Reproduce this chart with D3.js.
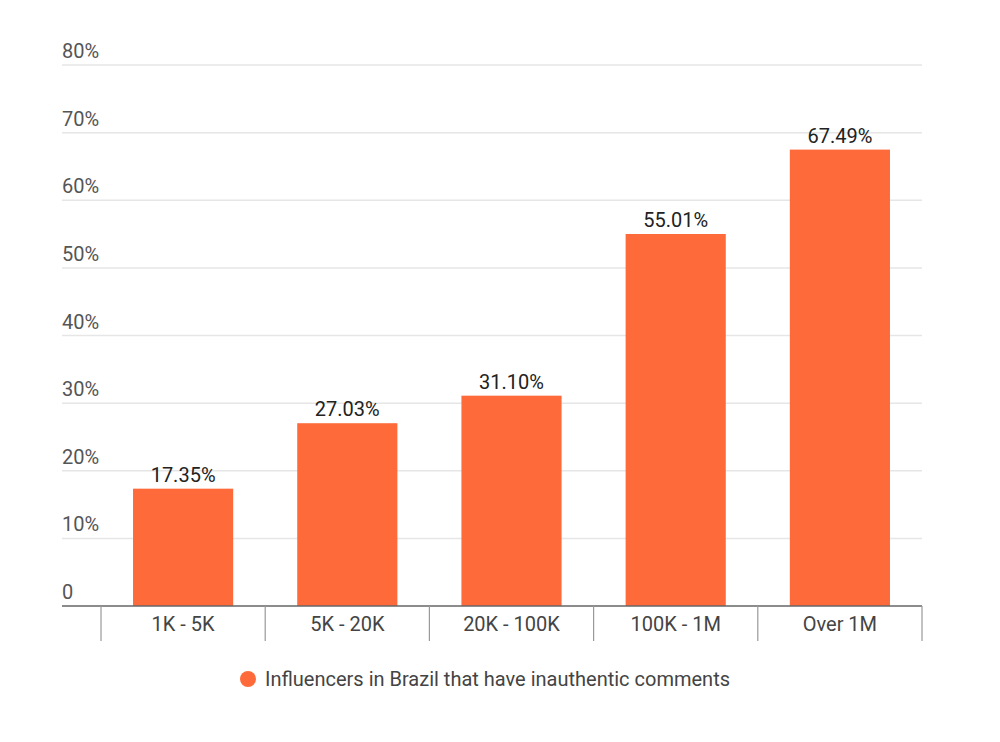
<!DOCTYPE html>
<html>
<head>
  <meta charset="utf-8">
  <script src="https://cdn.jsdelivr.net/npm/d3@7"></script>
  <style>
    body { margin: 0; background: #fff; font-family: Roboto, sans-serif; }
  </style>
</head>
<body>
  <script type="text/javascript">
    var categories = ["1K - 5K", "5K - 20K", "20K - 100K", "100K - 1M", "Over 1M"];
    var values = [17.35, 27.03, 31.10, 55.01, 67.49];
    var yTicks = [0, 10, 20, 30, 40, 50, 60, 70, 80];
    var seriesName = "Influencers in Brazil that have inauthentic comments";

    var W = 1000, H = 742;
    var svg = d3.select("body").append("svg")
                .attr("width", W)
                .attr("height", H);

    var left = 62, right = 922, bandLeft = 101;
    var y = d3.scaleLinear().domain([0, 80]).range([606, 65]);
    var x = d3.scaleBand().domain(categories).range([bandLeft, right])
              .paddingInner(0.39).paddingOuter(0.195);

    // gridlines + y labels
    var g = svg.append("g");
    yTicks.forEach(function (t) {
      if (t > 0) {
        g.append("line")
         .attr("x1", left).attr("x2", right)
         .attr("y1", y(t)).attr("y2", y(t))
         .attr("stroke", "#e6e6e6").attr("stroke-width", 1.5);
      }
      g.append("text")
       .attr("x", left)
       .attr("y", y(t) - 7)
       .style("font-size", "20px")
       .style("fill", "#555")
       .text(t === 0 ? "0" : t + "%");
    });

    // bars
    svg.selectAll("rect.bar").data(values).enter().append("rect")
       .attr("class", "bar")
       .attr("x", function (d, i) { return x(categories[i]); })
       .attr("width", x.bandwidth())
       .attr("y", function (d) { return y(d); })
       .attr("height", function (d) { return y(0) - y(d); })
       .attr("fill", "#ff6a3a");

    // value labels
    svg.selectAll("text.val").data(values).enter().append("text")
       .attr("class", "val")
       .attr("x", function (d, i) { return x(categories[i]) + x.bandwidth() / 2; })
       .attr("y", function (d) { return y(d) - 7; })
       .attr("text-anchor", "middle")
       .style("font-size", "20px")
       .style("fill", "#222")
       .text(function (d) { return d.toFixed(2) + "%"; });

    // baseline
    svg.append("line")
       .attr("x1", left).attr("x2", right)
       .attr("y1", y(0)).attr("y2", y(0))
       .attr("stroke", "#666").attr("stroke-width", 1.5);

    // category dividers
    d3.range(categories.length + 1).forEach(function (i) {
      var xx = bandLeft + i * (right - bandLeft) / categories.length;
      svg.append("line")
         .attr("x1", xx).attr("x2", xx)
         .attr("y1", y(0)).attr("y2", 641)
         .attr("stroke", "#999").attr("stroke-width", 1.2);
    });

    // category labels
    svg.selectAll("text.cat").data(categories).enter().append("text")
       .attr("class", "cat")
       .attr("x", function (d) { return x(d) + x.bandwidth() / 2; })
       .attr("y", 631)
       .attr("text-anchor", "middle")
       .style("font-size", "20px")
       .style("fill", "#444")
       .text(function (d) { return d; });

    // legend
    var lg = svg.append("g");
    lg.append("circle").attr("cx", 248).attr("cy", 679).attr("r", 8).attr("fill", "#ff6a3a");
    lg.append("text").attr("x", 265).attr("y", 686)
      .style("font-size", "20px").style("fill", "#444")
      .text(seriesName);
  </script>
</body>
</html>
